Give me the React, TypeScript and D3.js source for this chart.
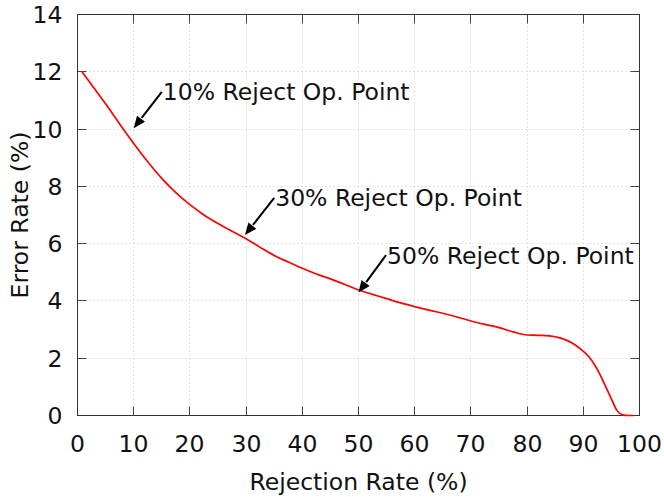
import React, { useRef, useEffect } from "react";
import * as d3 from "d3";

// rejection rate (%) and matching error rate (%)
const rejection = [0.8, 2.5, 5, 7.5, 10, 12.5, 15, 17.5, 20, 22.5, 25, 27.5, 30, 32.5, 35, 37.5, 40, 42.5, 45, 47.5, 50, 52.5, 55, 57.5, 60, 62.5, 65, 67.5, 70, 72.5, 75, 77.5, 80, 82, 84, 86, 88, 89, 90, 91, 92, 93, 94, 95, 96, 97, 98, 99];
const errorRate = [12.0, 11.55, 10.88, 10.18, 9.5, 8.86, 8.28, 7.78, 7.36, 7.0, 6.7, 6.43, 6.17, 5.87, 5.59, 5.36, 5.14, 4.94, 4.77, 4.58, 4.38, 4.23, 4.08, 3.93, 3.8, 3.68, 3.57, 3.44, 3.3, 3.18, 3.07, 2.92, 2.81, 2.8, 2.78, 2.7, 2.53, 2.4, 2.24, 2.05, 1.77, 1.42, 1.0, 0.58, 0.17, 0.02, 0.0, 0.0];

const xTicks = [0, 10, 20, 30, 40, 50, 60, 70, 80, 90, 100];
const yTicks = [0, 2, 4, 6, 8, 10, 12, 14];

// annotation labels with arrows: [tailX, tailY, headX, headY]
const labels = ["10% Reject Op. Point", "30% Reject Op. Point", "50% Reject Op. Point"];
const arrows = [
  [15, 11.3, 10, 10.03],
  [35, 7.6, 29.8, 6.3],
  [54.9, 5.6, 50, 4.29],
];

export default function App() {
  const svgRef = useRef<SVGSVGElement>(null);

  useEffect(() => {
    const svg = d3.select(svgRef.current);
    svg.selectAll("*").remove();

    const width = 664;
    const height = 497;
    const margin = { top: 14, right: 25, bottom: 82, left: 77 };
    const innerWidth = width - margin.left - margin.right;
    const innerHeight = height - margin.top - margin.bottom;
    const font = "DejaVu Sans, sans-serif";
    const fs = 23.5;

    const x = d3.scaleLinear().domain([0, 100]).range([0, innerWidth]);
    const y = d3.scaleLinear().domain([0, 14]).range([innerHeight, 0]);

    const g = svg
      .append("g")
      .attr("transform", `translate(${margin.left + 0.5}, ${margin.top + 0.5})`);

    // dotted grid
    g.selectAll(".gx")
      .data(xTicks.slice(1, -1))
      .enter()
      .append("line")
      .attr("x1", (d) => Math.round(x(d)))
      .attr("x2", (d) => Math.round(x(d)))
      .attr("y1", 0)
      .attr("y2", innerHeight)
      .attr("stroke", "#c8c8c8")
      .attr("stroke-dasharray", "1,3");

    g.selectAll(".gy")
      .data(yTicks.slice(1, -1))
      .enter()
      .append("line")
      .attr("x1", 0)
      .attr("x2", innerWidth)
      .attr("y1", (d) => Math.round(y(d)))
      .attr("y2", (d) => Math.round(y(d)))
      .attr("stroke", "#c8c8c8")
      .attr("stroke-dasharray", "1,3");

    // ticks on all four sides, pointing inward
    const tl = 9;
    xTicks.forEach((t) => {
      const px = Math.round(x(t));
      g.append("line").attr("x1", px).attr("x2", px).attr("y1", innerHeight).attr("y2", innerHeight - tl).attr("stroke", "#444");
      g.append("line").attr("x1", px).attr("x2", px).attr("y1", 0).attr("y2", tl).attr("stroke", "#444");
      g.append("text")
        .attr("x", px)
        .attr("y", innerHeight + 36)
        .attr("text-anchor", "middle")
        .attr("font-family", font)
        .attr("font-size", fs)
        .attr("fill", "#111")
        .text(t);
    });
    yTicks.forEach((t) => {
      const py = Math.round(y(t));
      g.append("line").attr("x1", 0).attr("x2", tl).attr("y1", py).attr("y2", py).attr("stroke", "#444");
      g.append("line").attr("x1", innerWidth).attr("x2", innerWidth - tl).attr("y1", py).attr("y2", py).attr("stroke", "#444");
      g.append("text")
        .attr("x", -15)
        .attr("y", py)
        .attr("dy", "0.36em")
        .attr("text-anchor", "end")
        .attr("font-family", font)
        .attr("font-size", fs)
        .attr("fill", "#111")
        .text(t);
    });

    // border
    g.append("rect")
      .attr("width", Math.round(innerWidth))
      .attr("height", Math.round(innerHeight))
      .attr("fill", "none")
      .attr("stroke", "#333");

    // curve
    const pts = rejection.map((r, i) => [r, errorRate[i]] as [number, number]);
    g.append("path")
      .datum(pts)
      .attr("d", d3.line<[number, number]>().x((d) => x(d[0])).y((d) => y(d[1])).curve(d3.curveMonotoneX))
      .attr("fill", "none")
      .attr("stroke", "#ff0000")
      .attr("stroke-width", 1.7)
      .attr("stroke-linejoin", "round");

    // arrows and labels
    arrows.forEach(([tx, ty, hx, hy], i) => {
      const x0 = x(tx), y0 = y(ty), x1 = x(hx), y1 = y(hy);
      const ang = Math.atan2(y1 - y0, x1 - x0);
      const len = 13, half = 0.4;
      const bx = x1 - len * Math.cos(ang), by = y1 - len * Math.sin(ang);
      g.append("line")
        .attr("x1", x0).attr("y1", y0)
        .attr("x2", bx).attr("y2", by)
        .attr("stroke", "#000")
        .attr("stroke-width", 2);
      const p1 = [x1 - len * Math.cos(ang - half), y1 - len * Math.sin(ang - half)];
      const p2 = [x1 - len * Math.cos(ang + half), y1 - len * Math.sin(ang + half)];
      g.append("path")
        .attr("d", `M${x1},${y1}L${p1[0]},${p1[1]}L${p2[0]},${p2[1]}Z`)
        .attr("fill", "#000");
      g.append("text")
        .attr("x", x0 + 1)
        .attr("y", y0)
        .attr("dy", "0.36em")
        .attr("font-family", font)
        .attr("font-size", fs)
        .attr("fill", "#111")
        .text(labels[i]);
    });

    // axis titles
    g.append("text")
      .attr("x", innerWidth / 2)
      .attr("y", innerHeight + 74)
      .attr("text-anchor", "middle")
      .attr("font-family", font)
      .attr("font-size", fs)
      .attr("fill", "#111")
      .text("Rejection Rate (%)");

    g.append("text")
      .attr("transform", `translate(${-50}, ${innerHeight / 2}) rotate(-90)`)
      .attr("text-anchor", "middle")
      .attr("font-family", font)
      .attr("font-size", fs)
      .attr("fill", "#111")
      .text("Error Rate (%)");
  }, []);

  return (
    <svg
      ref={svgRef}
      width={664}
      height={497}
      style={{ position: "absolute", left: 0, top: 0, background: "#fff" }}
    ></svg>
  );
}
